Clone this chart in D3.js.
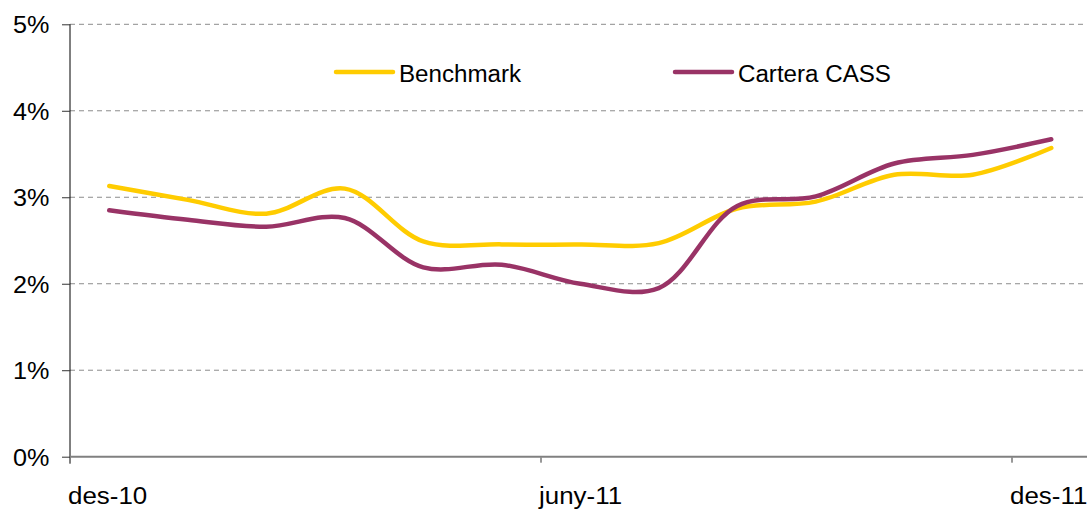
<!DOCTYPE html>
<html>
<head>
<meta charset="utf-8">
<script src="https://cdn.jsdelivr.net/npm/d3@7"></script>
<style>
  html, body { margin: 0; padding: 0; background: #fff; overflow: hidden; }
  text { font-family: "Liberation Sans", Arial, sans-serif; fill: #000; }
</style>
</head>
<body>
<svg id="chart" width="1087" height="509"></svg>
<script>
const categories = ["des-10","gen-11","febr-11","març-11","abr-11","maig-11","juny-11","jul-11","ag-11","set-11","oct-11","nov-11","des-11"];
const tickLabels = ["des-10","juny-11","des-11"];
const benchmark = [3.13, 2.97, 2.81, 3.10, 2.49, 2.455, 2.455, 2.47, 2.87, 2.95, 3.26, 3.26, 3.57];
const carteraCASS = [2.85, 2.74, 2.66, 2.76, 2.19, 2.22, 2.00, 1.95, 2.90, 3.01, 3.39, 3.49, 3.67];
const yTicks = [0, 1, 2, 3, 4, 5];
const seriesNames = ["Benchmark", "Cartera CASS"];
const seriesColors = ["#FFCC00", "#993366"];

const svg = d3.select("#chart");
const mLeft = 70, mTop = 24.3, mBottom = 456.7;
const step = 78.5;
const mRight = mLeft + step * categories.length;
const sx = 1.08; // horizontal text stretch seen in the reference

const x = d3.scaleBand().domain(categories).range([mLeft, mRight]).paddingInner(0).paddingOuter(0);
const y = d3.scaleLinear().domain([0, 5]).range([mBottom, mTop]);

// gridlines
svg.append("g").selectAll("line").data(yTicks.filter(d => d > 0)).join("line")
  .attr("x1", mLeft).attr("x2", 1087)
  .attr("y1", d => y(d)).attr("y2", d => y(d))
  .attr("stroke", "#8c8c8c").attr("stroke-width", 1)
  .attr("stroke-dasharray", "5,4");

// y axis
const yAxis = d3.axisLeft(y).tickValues(yTicks).tickSize(8).tickFormat(d => d + "%");
const gy = svg.append("g").attr("transform", `translate(${mLeft},0)`).call(yAxis);
gy.select(".domain").attr("stroke", "#000").attr("stroke-width", 1)
  .attr("d", `M0,${mTop}V${mBottom + 7}`);
gy.selectAll(".tick line").attr("stroke", "#333");
gy.selectAll(".tick text").attr("x", -20.5 / 1.05).attr("dy", "0.36em")
  .attr("transform", "scale(1.05,1)")
  .style("font-size", "24px").style("font-family", "Liberation Sans, Arial, sans-serif").attr("fill", "#000");

// x axis
const xAxis = d3.axisBottom(x).tickValues(tickLabels).tickSize(6).tickSizeOuter(0);
const gx = svg.append("g").attr("transform", `translate(0,${mBottom})`).call(xAxis);
gx.select(".domain").attr("d", `M${mLeft},0H1087`).attr("stroke", "#808080").attr("stroke-width", 2);
gx.selectAll(".tick").attr("transform", d => `translate(${x(d)},0)`);
gx.selectAll(".tick line").attr("stroke", "#333").attr("y1", 1);
gx.selectAll(".tick text").attr("text-anchor", "start").attr("x", -2 / sx).attr("y", 47.5).attr("dy", 0)
  .attr("transform", `scale(${sx},1)`)
  .style("font-size", "24px").style("font-family", "Liberation Sans, Arial, sans-serif").attr("fill", "#000");
gx.select(".tick").select("line").remove();

// lines
const line = d3.line()
  .x((d, i) => x(categories[i]) + x.bandwidth() / 2)
  .y(d => y(d))
  .curve(d3.curveCatmullRom.alpha(0.5));

[benchmark, carteraCASS].forEach((data, i) => {
  svg.append("path").datum(data)
    .attr("d", line)
    .attr("fill", "none")
    .attr("stroke", seriesColors[i])
    .attr("stroke-width", 4.5)
    .attr("stroke-linecap", "round")
    .attr("stroke-linejoin", "round");
});

// legend
const legendX = [336, 675];
const legend = svg.append("g");
seriesNames.forEach((name, i) => {
  legend.append("line")
    .attr("x1", legendX[i]).attr("x2", legendX[i] + 57)
    .attr("y1", 72).attr("y2", 72)
    .attr("stroke", seriesColors[i]).attr("stroke-width", 4.5).attr("stroke-linecap", "round");
  legend.append("text")
    .attr("transform", `translate(${legendX[i] + 63},81.5) scale(1.05,1)`)
    .style("font-size", "23px")
    .text(name);
});
</script>
</body>
</html>
